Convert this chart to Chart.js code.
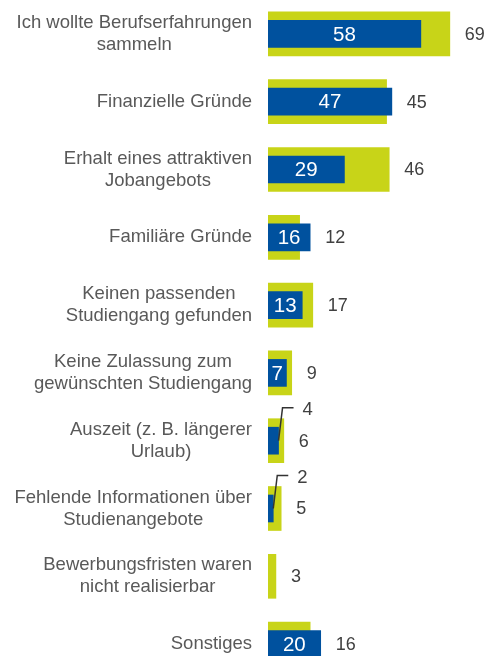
<!DOCTYPE html>
<html>
<head>
<meta charset="utf-8">
<script src="https://cdn.jsdelivr.net/npm/chart.js@4"></script>
<style>
  html, body { margin: 0; padding: 0; background: #fff; overflow: hidden; }
  #wrap { position: relative; width: 492px; height: 678px; }
</style>
</head>
<body>
<div id="wrap"><canvas id="chart"></canvas></div>
<script>
// Gründe (Kategorien), jede Zeile ein Eintrag
const categories = [
  ['Ich wollte Berufserfahrungen', 'sammeln'],
  ['Finanzielle Gründe'],
  ['Erhalt eines attraktiven', 'Jobangebots'],
  ['Familiäre Gründe'],
  ['Keinen passenden', 'Studiengang gefunden'],
  ['Keine Zulassung zum', 'gewünschten Studiengang'],
  ['Auszeit (z. B. längerer', 'Urlaub)'],
  ['Fehlende Informationen über', 'Studienangebote'],
  ['Bewerbungsfristen waren', 'nicht realisierbar'],
  ['Sonstiges']
];
const blueValues = [58, 47, 29, 16, 13, 7, 4, 2, null, 20];
const limeValues = [69, 45, 46, 12, 17, 9, 6, 5, 3, 16];

const BLUE = '#00519e';
const LIME = '#c8d418';
const FONT = "'Liberation Sans', Arial, sans-serif";

// Kategorie-Beschriftungen: Block rechtsbündig, Zeilen zentriert
const categoryLabels = {
  id: 'categoryLabels',
  afterDraw(chart) {
    const ctx = chart.ctx;
    const y = chart.scales.y;
    const right = chart.chartArea.left - 16;
    ctx.save();
    ctx.font = '18.5px ' + FONT;
    ctx.fillStyle = '#595959';
    ctx.textAlign = 'center';
    ctx.textBaseline = 'middle';
    categories.forEach((lines, i) => {
      const cy = y.getPixelForValue(i);
      const w = Math.max(...lines.map(l => ctx.measureText(l).width));
      const cx = right - w / 2;
      const lh = 22;
      const top = cy - (lines.length - 1) * lh / 2;
      lines.forEach((l, j) => ctx.fillText(l, cx, top + j * lh));
    });
    ctx.restore();
  }
};

// Werte-Beschriftungen
const valueLabels = {
  id: 'valueLabels',
  afterDatasetsDraw(chart) {
    const ctx = chart.ctx;
    const blueMeta = chart.getDatasetMeta(0);
    const limeMeta = chart.getDatasetMeta(1);
    ctx.save();
    ctx.textBaseline = 'middle';

    blueValues.forEach((v, i) => {
      if (v == null) return;
      const bar = blueMeta.data[i];
      const width = bar.x - bar.base;
      ctx.font = '20.5px ' + FONT;
      const tw = ctx.measureText(String(v)).width;
      if (tw + 4 <= width) {
        ctx.fillStyle = '#fff';
        ctx.textAlign = 'center';
        ctx.fillText(String(v), (bar.x + bar.base) / 2, bar.y + 1);
      } else {
        // Führungslinie für kleine Werte
        ctx.strokeStyle = '#333';
        ctx.lineWidth = 1.5;
        ctx.beginPath();
        ctx.moveTo(bar.x, bar.y);
        ctx.lineTo(bar.x + 4, bar.y - 33);
        ctx.lineTo(bar.x + 15, bar.y - 33);
        ctx.stroke();
        ctx.font = '18.5px ' + FONT;
        ctx.fillStyle = '#404040';
        ctx.textAlign = 'left';
        ctx.fillText(String(v), bar.x + 24, bar.y - 31);
      }
    });

    ctx.font = '18px ' + FONT;
    ctx.fillStyle = '#404040';
    ctx.textAlign = 'left';
    limeValues.forEach((v, i) => {
      const lime = limeMeta.data[i];
      const blue = blueMeta.data[i];
      let end = lime.x;
      if (blueValues[i] != null) end = Math.max(end, blue.x);
      ctx.fillText(String(v), end + 15, lime.y + 1);
    });
    ctx.restore();
  }
};

new Chart(document.getElementById('chart'), {
  type: 'bar',
  data: {
    labels: categories,
    datasets: [
      { label: 'blau', data: blueValues, backgroundColor: BLUE, barThickness: 27, grouped: false },
      { label: 'grün', data: limeValues, backgroundColor: LIME, barThickness: 44, grouped: false },
    ],
  },
  options: {
    indexAxis: 'y',
    responsive: true,
    maintainAspectRatio: false,
    devicePixelRatio: 1,
    animation: false,
    layout: { padding: 0 },
    plugins: { legend: { display: false }, tooltip: { enabled: false } },
    scales: {
      x: {
        min: 0, max: 85,
        display: false,
      },
      y: {
        grid: { display: false },
        border: { display: false },
        ticks: { display: false },
        afterFit(scale) { scale.width = 268; },
      },
    },
  },
  plugins: [categoryLabels, valueLabels],
});
</script>
</body>
</html>
